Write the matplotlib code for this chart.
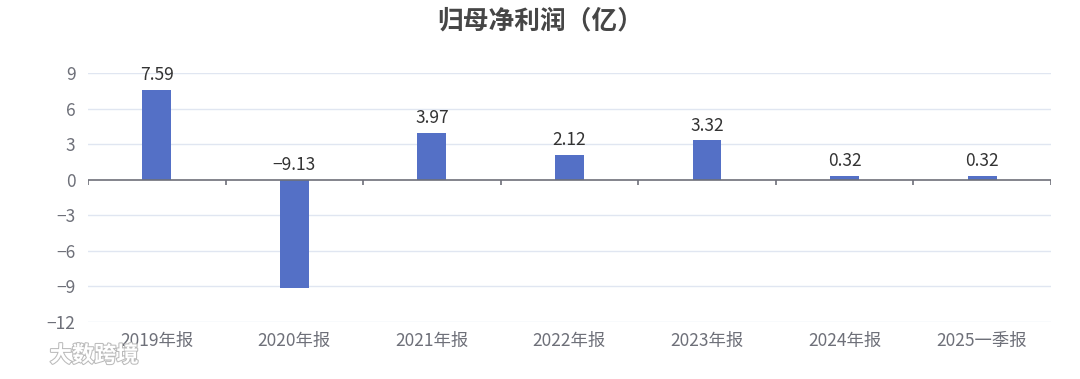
import matplotlib
matplotlib.use("Agg")
import matplotlib.pyplot as plt
import matplotlib.patheffects as pe
import numpy as np

plt.rcParams['font.family'] = ['Noto Sans CJK SC', 'DejaVu Sans']
plt.rcParams['axes.unicode_minus'] = True

# 数据
categories = ["2019年报", "2020年报", "2021年报", "2022年报", "2023年报", "2024年报", "2025一季报"]
values = [7.59, -9.13, 3.97, 2.12, 3.32, 0.32, 0.32]
y_ticks = [-12, -9, -6, -3, 0, 3, 6, 9]

bar_color = "#5470c6"
axis_color = "#6e7079"
grid_color = "#e0e6f1"

fig = plt.figure(figsize=(10.8, 3.79), dpi=100)
ax = fig.add_axes([0.0815, 0.1504, 0.8915, 0.657])

x = np.arange(len(categories))
ax.bar(x, values, width=0.21, color=bar_color, zorder=3)

ax.set_xlim(-0.5, len(categories) - 0.5)
ax.set_ylim(-12, 9)

# 网格线
ax.set_yticks(y_ticks)
ax.set_yticklabels([str(t).replace("-", "\u2212") for t in y_ticks])
for t in y_ticks:
    if t != 0:
        ax.axhline(t, color=grid_color, lw=1, zorder=1)

# 零轴 + 刻度
ax.axhline(0, color=axis_color, lw=1.2, zorder=4)
bounds = np.arange(len(categories) + 1) - 0.5
ax.vlines(bounds, -0.42, 0, color=axis_color, lw=1.2, zorder=4)

for s in ax.spines.values():
    s.set_visible(False)

ax.set_xticks(x)
ax.set_xticklabels(categories)
ax.tick_params(axis='x', length=0, pad=7, labelsize=12.5, labelcolor=axis_color)
ax.tick_params(axis='y', length=0, pad=9, labelsize=12.5, labelcolor=axis_color)

# 数值标签
for xi, v in zip(x, values):
    ax.annotate(f"{v:.2f}".replace("-", "\u2212"), (xi, max(v, 0)), xytext=(0, 4),
                textcoords="offset points", ha='center', va='bottom',
                fontsize=12.5, color="#333333", zorder=5)

fig.text(0.5, 0.945, "归母净利润（亿）", ha='center', va='center',
         fontsize=18.5, fontweight='bold', color="#464646")

# 水印
fig.text(0.046, 0.062, "大数跨境", ha='left', va='center', fontsize=16,
         fontweight='bold', color="white",
         path_effects=[pe.withStroke(linewidth=1.5, foreground="#bbbbbb")])

fig.savefig("out.png", dpi=100)
